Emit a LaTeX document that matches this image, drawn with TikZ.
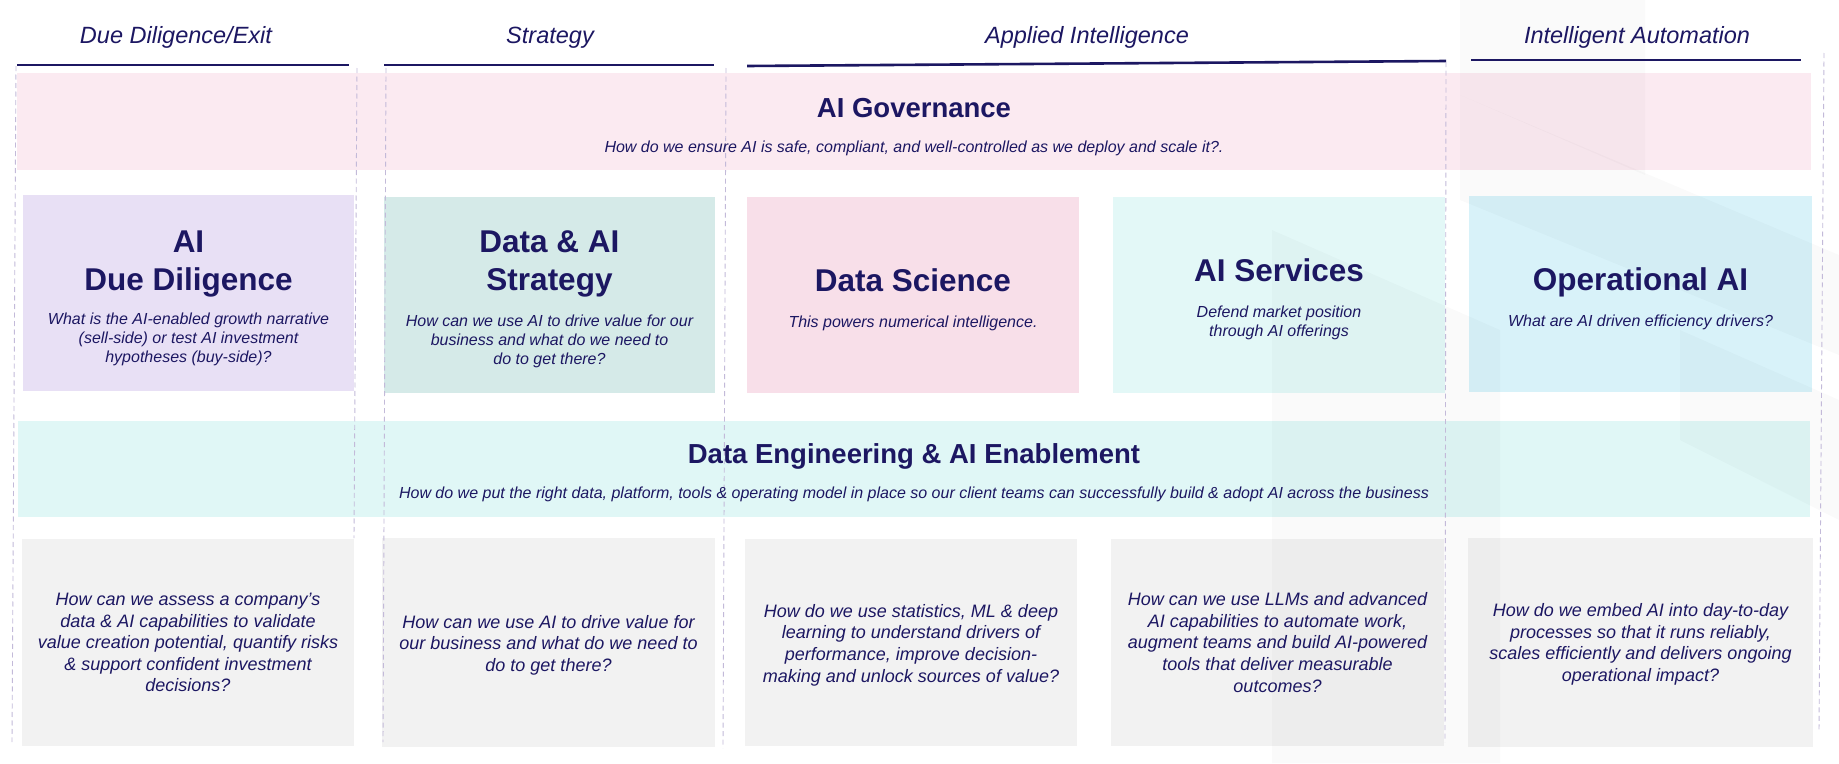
\documentclass[tikz,border=0pt]{standalone}
\usepackage{fontspec}
\setmainfont{Liberation Sans}
\definecolor{navy}{HTML}{1C1762}
\definecolor{govpink}{HTML}{FBEAF1}
\definecolor{ddlav}{HTML}{E8E0F5}
\definecolor{stratteal}{HTML}{D5EAE8}
\definecolor{dspink}{HTML}{F8DFE9}
\definecolor{aicyan}{HTML}{E3F8F7}
\definecolor{opblue}{HTML}{D8F2F9}
\definecolor{engteal}{HTML}{E0F7F6}
\definecolor{qgray}{HTML}{F2F2F2}
\definecolor{vcol}{HTML}{C3BAD9}
\begin{document}
\begin{tikzpicture}[x=1pt,y=-1pt,
  area/.style={draw=none,inner sep=0pt,outer sep=0pt},
  hdr/.style={font=\fontsize{23.5}{28}\selectfont\itshape,text=navy,anchor=base,inner sep=0pt},
  bandtitle/.style={font=\fontsize{27.5}{33}\selectfont\bfseries,text=navy,anchor=base,inner sep=0pt},
  boxtitle/.style={font=\fontsize{31.5}{38}\selectfont\bfseries,text=navy,anchor=base,inner sep=0pt},
  subtext/.style={font=\fontsize{16}{19}\selectfont\itshape,text=navy,align=center,inner sep=0pt},
  qtext/.style={font=\fontsize{18}{21.6}\selectfont\itshape,text=navy,align=center,inner sep=0pt},
  uline/.style={draw=navy,line width=2.6pt},
  vline/.style={draw=vcol,line width=0.9pt,dash pattern=on 5pt off 3.5pt},
  wmark/.style={fill=black,fill opacity=0.018,draw=none}]
\useasboundingbox (0,0) rectangle (1839,763);
\fill[white] (0,0) rectangle (1839,763);

% bands and boxes
\node[area,fill=govpink,minimum width=1794pt,minimum height=97pt] (gov) at (914,121.5) {};
\node[area,fill=ddlav,minimum width=331pt,minimum height=196pt] (b1) at (188.5,293) {};
\node[area,fill=stratteal,minimum width=331pt,minimum height=196pt] (b2) at (549.5,295) {};
\node[area,fill=dspink,minimum width=332pt,minimum height=196pt] (b3) at (913,295) {};
\node[area,fill=aicyan,minimum width=332pt,minimum height=196pt] (b4) at (1279,295) {};
\node[area,fill=opblue,minimum width=343pt,minimum height=196pt] (b5) at (1640.5,294) {};
\node[area,fill=engteal,minimum width=1792pt,minimum height=96pt] (eng) at (914,469) {};
\node[area,fill=qgray,minimum width=332pt,minimum height=207pt] (g1) at (188,642.5) {};
\node[area,fill=qgray,minimum width=333pt,minimum height=209pt] (g2) at (548.5,642.5) {};
\node[area,fill=qgray,minimum width=332pt,minimum height=207pt] (g3) at (911,642.5) {};
\node[area,fill=qgray,minimum width=333pt,minimum height=207pt] (g4) at (1277.5,642.5) {};
\node[area,fill=qgray,minimum width=345pt,minimum height=209pt] (g5) at (1640.5,642.5) {};

% faint watermark
\fill[wmark] (1460,0) -- (1645,0) -- (1645,175) -- (1460,95) -- cycle;
\fill[wmark] (1460,95) -- (1839,255) -- (1839,355) -- (1460,200) -- cycle;
\fill[wmark] (1272,230) -- (1500,330) -- (1500,763) -- (1272,763) -- cycle;
\fill[wmark] (1680,330) -- (1839,400) -- (1839,520) -- (1680,440) -- cycle;

% header underlines
\coordinate (u1a) at (17,65); \coordinate (u1b) at (349,65);
\coordinate (u2a) at (384,65); \coordinate (u2b) at (714,65);
\coordinate (u3a) at (747,66); \coordinate (u3b) at (1446,61);
\coordinate (u4a) at (1471,60); \coordinate (u4b) at (1801,60);
\draw[uline] (u1a) -- (u1b);
\draw[uline] (u2a) -- (u2b);
\draw[uline] (u3a) -- (u3b);
\draw[uline] (u4a) -- (u4b);

% dashed column guides
\coordinate (v1a) at (16,66);   \coordinate (v1b) at (12,742);
\coordinate (v2a) at (357,68);  \coordinate (v2b) at (354,538);
\coordinate (v3a) at (386,68);  \coordinate (v3b) at (383,742);
\coordinate (v4a) at (726,68);  \coordinate (v4b) at (723,748);
\coordinate (v5a) at (1446,62); \coordinate (v5b) at (1445,742);
\coordinate (v6a) at (1824,53); \coordinate (v6b) at (1819,730);
\draw[vline] (v1a) -- (v1b);
\draw[vline] (v2a) -- (v2b);
\draw[vline] (v3a) -- (v3b);
\draw[vline] (v4a) -- (v4b);
\draw[vline] (v5a) -- (v5b);
\draw[vline] (v6a) -- (v6b);

% column headers
\node[hdr] (h1) at (176,43) {Due Diligence/Exit};
\node[hdr] (h2) at (550,43) {Strategy};
\node[hdr] (h3) at (1087,43) {Applied Intelligence};
\node[hdr] (h4) at (1637,43) {Intelligent Automation};

% governance band
\node[bandtitle] (govt) at (914,117) {AI Governance};
\node[subtext,anchor=base] (govs) at (914,152) {How do we ensure AI is safe, compliant, and well-controlled as we deploy and scale it?.};

% coloured boxes
\node[boxtitle] (b1t1) at (188.5,252) {AI};
\node[boxtitle] (b1t2) at (188.5,290) {Due Diligence};
\node[subtext] (b1s) at (188.5,339.5) {What is the AI-enabled growth narrative\\(sell-side) or test AI investment\\hypotheses (buy-side)?};

\node[boxtitle] (b2t1) at (549.5,252) {Data \& AI};
\node[boxtitle] (b2t2) at (549.5,290) {Strategy};
\node[subtext] (b2s) at (549.5,341) {How can we use AI to drive value for our\\business and what do we need to\\do to get there?};

\node[boxtitle] (b3t) at (913,291) {Data Science};
\node[subtext,anchor=base] (b3s) at (913,327) {This powers numerical intelligence.};

\node[boxtitle] (b4t) at (1279,281) {AI Services};
\node[subtext] (b4s) at (1279,322.5) {Defend market position\\through AI offerings};

\node[boxtitle] (b5t) at (1640.5,290) {Operational AI};
\node[subtext,anchor=base] (b5s) at (1640.5,326) {What are AI driven efficiency drivers?};

% engineering band
\node[bandtitle] (engt) at (914,463) {Data Engineering \& AI Enablement};
\node[subtext,anchor=base] (engs) at (914,498) {How do we put the right data, platform, tools \& operating model in place so our client teams can successfully build \& adopt AI across the business};

% question boxes
\node[qtext] (g1q) at (188,642.5) {How can we assess a company’s\\data \& AI capabilities to validate\\value creation potential, quantify risks\\\& support confident investment\\decisions?};
\node[qtext] (g2q) at (548.5,645) {How can we use AI to drive value for\\our business and what do we need to\\do to get there?};
\node[qtext] (g3q) at (911,645) {How do we use statistics, ML \& deep\\learning to understand drivers of\\performance, improve decision-\\making and unlock sources of value?};
\node[qtext] (g4q) at (1277.5,642.5) {How can we use LLMs and advanced\\AI capabilities to automate work,\\augment teams and build AI-powered\\tools that deliver measurable\\outcomes?};
\node[qtext] (g5q) at (1640.5,644.5) {How do we embed AI into day-to-day\\processes so that it runs reliably,\\scales efficiently and delivers ongoing\\operational impact?};
\end{tikzpicture}
\end{document}
